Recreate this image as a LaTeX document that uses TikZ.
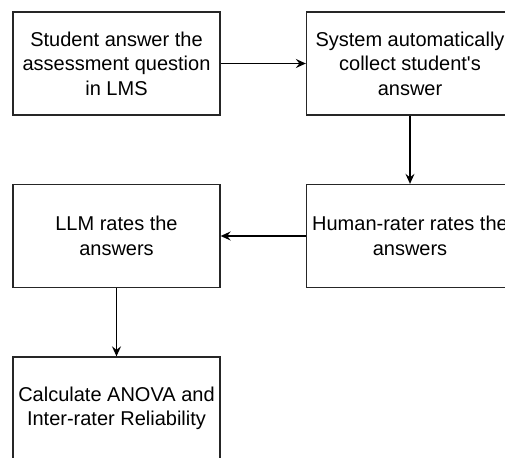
\documentclass[tikz,border=0pt]{standalone}
\usepackage{fontspec}
\setmainfont{Liberation Sans}
\usetikzlibrary{arrows.meta}
\begin{document}
\begin{tikzpicture}[x=1pt,y=1pt,
  box/.style={draw=black!85, line width=1.3pt, minimum width=207pt, minimum height=103pt,
    align=center, font=\fontsize{20}{24.5}\selectfont, inner sep=0pt},
  conn/.style={draw=black, line width=1.4pt, -{Stealth[length=10pt,width=9pt,inset=3.5pt]}}]
\useasboundingbox (0,0) rectangle (505,-457);
\clip (0,0) rectangle (505,-457);
\fill[white] (0,0) rectangle (505,-457);
\node[box] (b1) at (116.5,-63.5) {Student answer the\\assessment question\\in LMS};
\node[box] (b2) at (410,-63.5) {System automatically\\collect student\textquotesingle s\\answer};
\node[box] (b4) at (410,-236) {Human-rater rates the\\answers};
\node[box] (b3) at (116.5,-236) {LLM rates the\\answers};
\node[box] (b5) at (116.5,-408.5) {Calculate ANOVA and\\Inter-rater Reliability};
\draw[conn] (b1) -- (b2);
\draw[conn] (b2) -- (b4);
\draw[conn] (b4) -- (b3);
\draw[conn] (b3) -- (b5);
\end{tikzpicture}
\end{document}
